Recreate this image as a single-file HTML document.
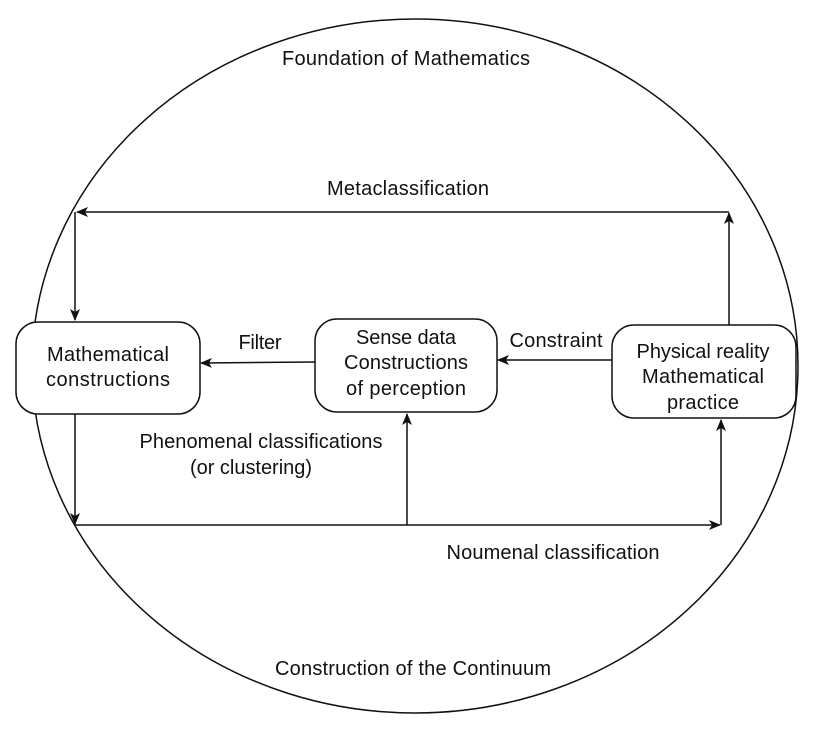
<!DOCTYPE html>
<html><head><meta charset="utf-8"><style>
html,body{margin:0;padding:0;background:#fff;}
svg{display:block;}
text{font-family:"Liberation Sans",Arial,sans-serif;font-size:20px;fill:#111;}
</style></head><body>
<svg width="818" height="754" viewBox="0 0 818 754" xmlns="http://www.w3.org/2000/svg">
<defs>
<marker id="a" markerWidth="12" markerHeight="10" refX="11" refY="5" orient="auto" markerUnits="userSpaceOnUse">
<path d="M0,0 L12,5 L0,10 L3,5 Z" fill="#111"/>
</marker>
</defs>
<ellipse cx="415" cy="366" rx="383" ry="347" fill="none" stroke="#111" stroke-width="1.5"/>
<g fill="#fff" stroke="#111" stroke-width="1.5">
<rect x="16" y="322" width="184" height="92" rx="22"/>
<rect x="315" y="319" width="182" height="93" rx="22"/>
<rect x="612" y="325" width="184" height="93" rx="22"/>
</g>
<g stroke="#111" stroke-width="1.5" fill="none">
<line x1="729" y1="325" x2="729" y2="213" marker-end="url(#a)"/>
<line x1="729" y1="212" x2="77" y2="212" marker-end="url(#a)"/>
<line x1="75" y1="212" x2="75" y2="320" marker-end="url(#a)"/>
<line x1="315" y1="362" x2="201" y2="363" marker-end="url(#a)"/>
<line x1="612" y1="360" x2="498" y2="360" marker-end="url(#a)"/>
<line x1="75" y1="414" x2="75" y2="524" marker-end="url(#a)"/>
<line x1="75" y1="525" x2="720" y2="525" marker-end="url(#a)"/>
<line x1="721" y1="525" x2="721" y2="420" marker-end="url(#a)"/>
<line x1="407" y1="525" x2="407" y2="414" marker-end="url(#a)"/>
</g>
<g textLength="0">
<text x="406" y="65" text-anchor="middle" textLength="248">Foundation of Mathematics</text>
<text x="408" y="195" text-anchor="middle" textLength="162">Metaclassification</text>
<text x="108" y="361" text-anchor="middle" textLength="122">Mathematical</text>
<text x="108" y="386" text-anchor="middle" textLength="124">constructions</text>
<text x="260" y="349" text-anchor="middle" textLength="43">Filter</text>
<text x="406" y="344" text-anchor="middle" textLength="100">Sense data</text>
<text x="406" y="369" text-anchor="middle" textLength="124">Constructions</text>
<text x="406" y="395" text-anchor="middle" textLength="120">of perception</text>
<text x="556" y="347" text-anchor="middle" textLength="93">Constraint</text>
<text x="703" y="358" text-anchor="middle" textLength="133">Physical reality</text>
<text x="703" y="383" text-anchor="middle" textLength="122">Mathematical</text>
<text x="703" y="409" text-anchor="middle" textLength="72">practice</text>
<text x="261" y="448" text-anchor="middle" textLength="243">Phenomenal classifications</text>
<text x="251" y="474" text-anchor="middle" textLength="122">(or clustering)</text>
<text x="553" y="559" text-anchor="middle" textLength="213">Noumenal classification</text>
<text x="413" y="675" text-anchor="middle" textLength="276">Construction of the Continuum</text>
</g>
</svg>
</body></html>
